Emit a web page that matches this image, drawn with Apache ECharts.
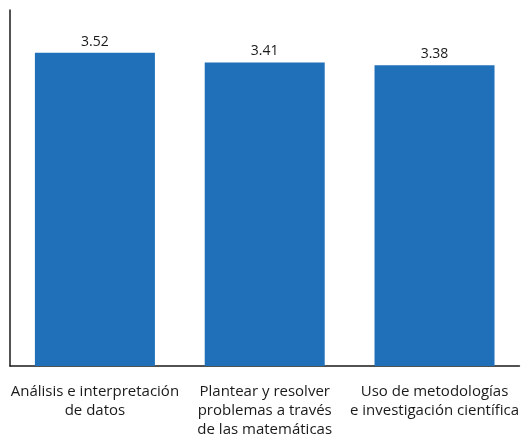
<!DOCTYPE html>
<html>
<head>
<meta charset="utf-8">
<script src="https://cdn.jsdelivr.net/npm/echarts@6/dist/echarts.min.js"></script>
<style>
  html, body { margin: 0; padding: 0; background: #fff; }
  #chart { width: 522px; height: 439px; }
</style>
</head>
<body>
<div id="chart"></div>
<script>
// Competencias evaluadas y su puntaje promedio
const categories = [
  'Análisis e interpretación\nde datos',
  'Plantear y resolver\nproblemas a través\nde las matemáticas',
  'Uso de metodologías\ne investigación científica'
];
const scores = [3.52, 3.41, 3.38];

const chart = echarts.init(document.getElementById('chart'), null, { renderer: 'canvas' });
const font = '"Open Sans", "Noto Sans", sans-serif';

chart.setOption({
  animation: false,
  grid: { left: 10, right: 2, top: 10, bottom: 73, containLabel: false },
  xAxis: {
    type: 'category',
    data: categories,
    axisLine: { show: true, lineStyle: { color: '#1a1a1a', width: 1.5 } },
    axisTick: { show: false },
    axisLabel: {
      interval: 0,
      margin: 16,
      color: '#1a1a1a',
      fontFamily: font,
      fontSize: 15,
      lineHeight: 19,
      align: 'center'
    }
  },
  yAxis: {
    type: 'value',
    min: 0,
    max: 4,
    axisLine: { show: true, lineStyle: { color: '#1a1a1a', width: 1.5 } },
    axisTick: { show: false },
    axisLabel: { show: false },
    splitLine: { show: false }
  },
  series: [{
    type: 'bar',
    data: scores,
    barWidth: 120,
    itemStyle: { color: '#1f70b8' },
    label: {
      show: true,
      position: 'top',
      distance: 4,
      color: '#1a1a1a',
      fontFamily: font,
      fontSize: 14,
      formatter: p => p.value.toFixed(2)
    }
  }]
});
</script>
</body>
</html>
